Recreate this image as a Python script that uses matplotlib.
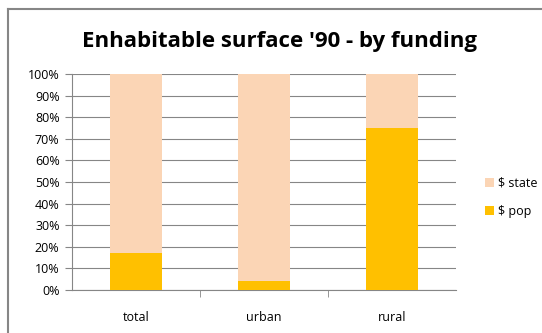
import matplotlib.pyplot as plt
import numpy as np
from matplotlib.lines import Line2D

categories = ["total", "urban", "rural"]
pop = [17, 4, 75]
state = [83, 96, 25]

plt.rcParams["font.family"] = ["Open Sans", "DejaVu Sans"]

fig = plt.figure(figsize=(5.42, 3.33), dpi=100)
W, H = 542, 333
ax = fig.add_axes([72 / W, 1 - 290 / H, (456 - 72) / W, (290 - 74) / H])

x = np.arange(len(categories))
ax.bar(x, pop, width=0.4, color="#FFC000", label="$ pop", zorder=3)
ax.bar(x, state, width=0.4, bottom=pop, color="#FBD5B5", label="$ state", zorder=3)

ax.set_xlim(-0.5, 2.5)
ax.set_ylim(0, 100)
ax.set_yticks(range(0, 101, 10))
ax.set_yticklabels([f"{v}%" for v in range(0, 101, 10)], fontsize=9)
ax.set_xticks(x)
ax.set_xticklabels(categories, fontsize=9)
ax.set_xticks([0.5, 1.5], minor=True)
ax.tick_params(axis="x", which="major", length=0, pad=15)
ax.tick_params(axis="x", which="minor", length=5, color="#868686", direction="out")
ax.tick_params(axis="y", length=5, color="#868686", pad=4)
ax.grid(axis="y", color="#868686", linewidth=0.8, zorder=0)

for s in ["top", "right"]:
    ax.spines[s].set_visible(False)
for s in ["left", "bottom"]:
    ax.spines[s].set_color("#868686")

handles, labels = ax.get_legend_handles_labels()
fig.legend(handles[::-1], labels[::-1], loc="center left",
           bbox_to_anchor=(474 / W, 1 - 197 / H), frameon=False,
           fontsize=9, handlelength=0.7, handleheight=0.7,
           handletextpad=0.3, labelspacing=1.2)

fig.text(279 / W, 1 - 41 / H, "Enhabitable surface '90 - by funding",
         ha="center", va="center", fontsize=16, fontweight="bold")

# chart border (top and left edges)
fig.add_artist(Line2D([8 / W, 8 / W], [0, 1 - 9 / H], transform=fig.transFigure,
                      color="#868686", linewidth=1.5))
fig.add_artist(Line2D([8 / W, 1], [1 - 9 / H, 1 - 9 / H], transform=fig.transFigure,
                      color="#868686", linewidth=1.5))

fig.savefig("out.png", dpi=100)
